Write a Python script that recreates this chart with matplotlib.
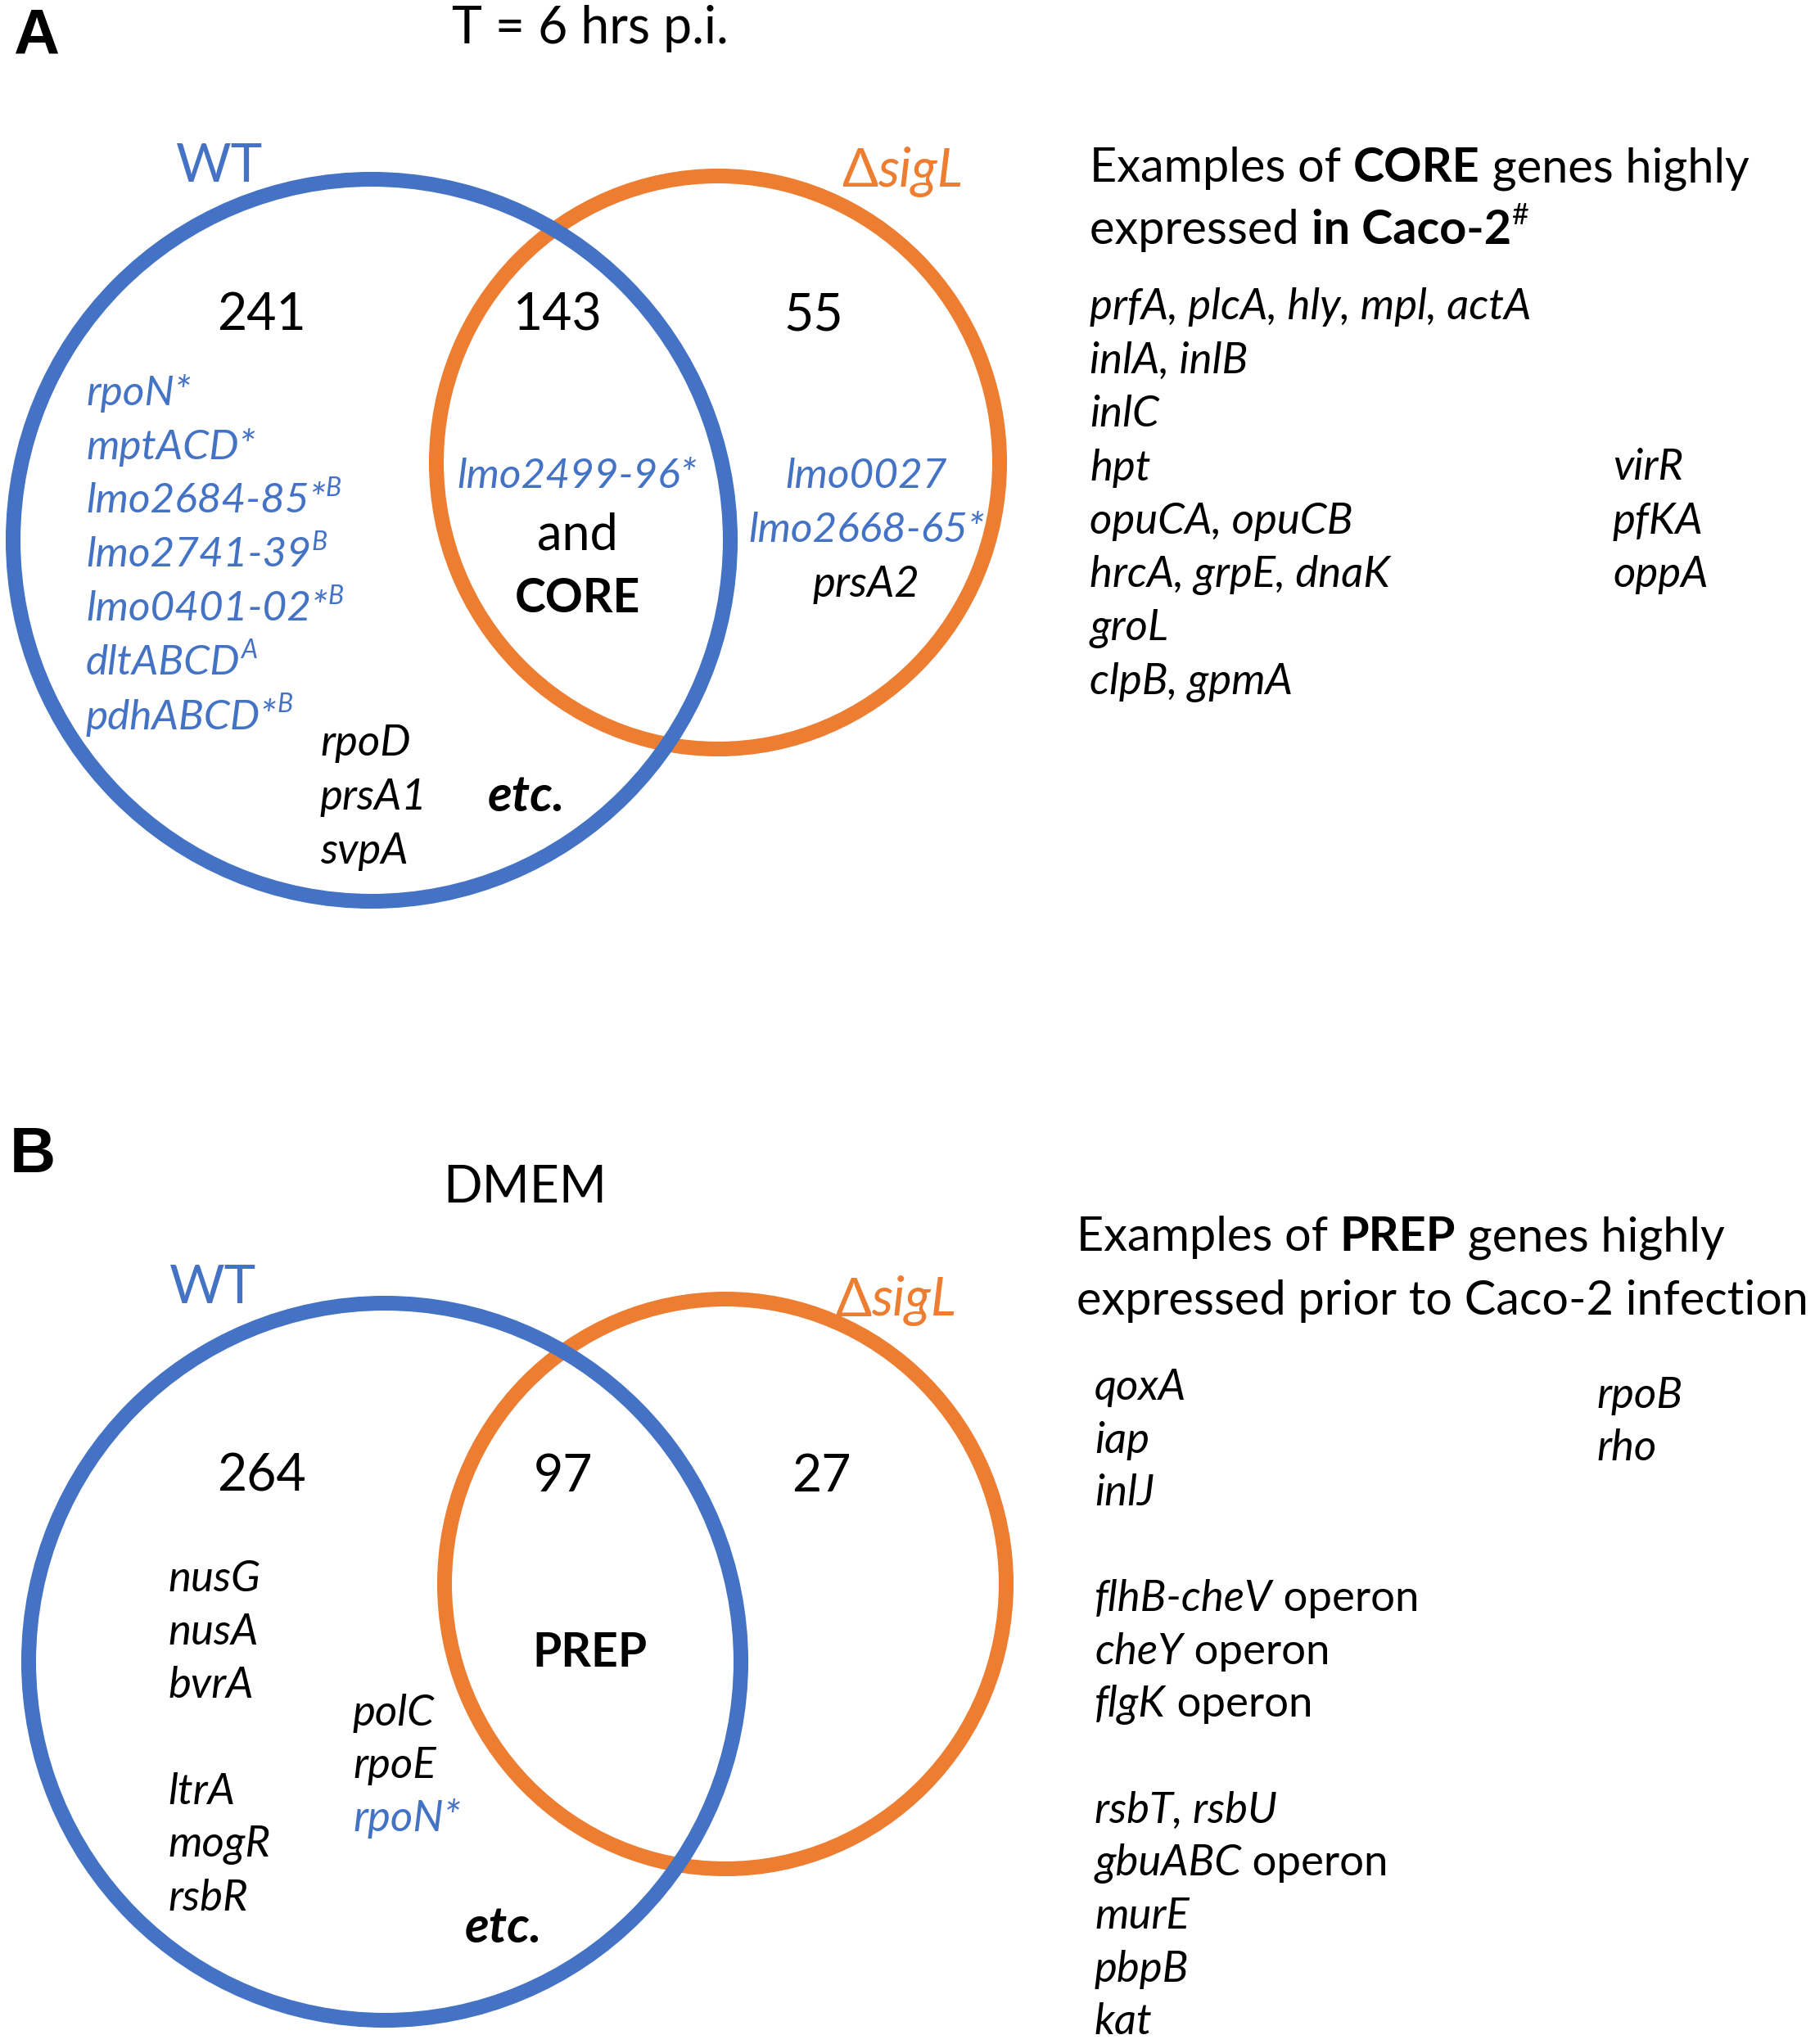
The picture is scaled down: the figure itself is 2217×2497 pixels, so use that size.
import matplotlib
matplotlib.use("Agg")
import matplotlib.pyplot as plt
from matplotlib.patches import Ellipse

plt.rcParams["font.family"] = ["Lato", "DejaVu Sans"]

BLUE = "#4472C4"
ORANGE = "#ED7D31"
W, H = 2217, 2497

# ---- data ----
panel_letters = ["A", "B"]
panel_titles = ["T = 6 hrs p.i.", "DMEM"]
set_names = ["WT", "sigL"]
counts_6h = [241, 143, 55]
counts_dmem = [264, 97, 27]

wt_genes_6h = ["rpoN*", "mptACD*", "lmo2684-85*", "lmo2741-39", "lmo0401-02*", "dltABCD", "pdhABCD*"]
wt_genes_6h_sup = ["", "", "B", "B", "B", "A", "B"]
wt_genes_6h_black = ["rpoD", "prsA1", "svpA"]
shared_genes_6h = ["lmo2499-96*", "and", "CORE"]
sigl_genes_6h_blue = ["lmo0027", "lmo2668-65*"]
sigl_genes_6h_black = ["prsA2"]

core_header = [
    [("Examples of ", ""), ("CORE", "bold"), (" genes highly", "")],
    [("expressed ", ""), ("in Caco-2", "bold"), ("#", "sup")],
]
core_genes_left = ["prfA, plcA, hly, mpl, actA", "inlA, inlB", "inlC", "hpt",
                   "opuCA, opuCB", "hrcA, grpE, dnaK", "groL", "clpB, gpmA"]
core_genes_right = ["virR", "pfKA", "oppA"]

wt_genes_dmem_left = ["nusG", "nusA", "bvrA", "", "ltrA", "mogR", "rsbR"]
wt_genes_dmem_mid = ["polC", "rpoE"]
wt_genes_dmem_mid_blue = ["rpoN*"]
shared_dmem = "PREP"

prep_header = [
    [("Examples of ", ""), ("PREP", "bold"), (" genes highly", "")],
    [("expressed prior to Caco-2 infection", "")],
]
prep_genes_left = [("qoxA", ""), ("iap", ""), ("inlJ", ""), None,
                   ("flhB-cheV", " operon"), ("cheY", " operon"), ("flgK", " operon"), None,
                   ("rsbT, rsbU", ""), ("gbuABC", " operon"), ("murE", ""), ("pbpB", ""), ("kat", "")]
prep_genes_right = ["rpoB", "rho"]

# ---- sizes (pt) ----
S_HEAD = 41.5
S_LIST = 38
S_GENE = 37
S_NUM = 45
S_LABEL = 47
S_TITLE = 45
S_MID = 44
LW = 13

fig = plt.figure(figsize=(W / 100, H / 100), dpi=100)
ax = fig.add_axes([0, 0, 1, 1])
ax.set_xlim(0, W)
ax.set_ylim(H, 0)
ax.axis("off")
renderer = fig.canvas.get_renderer()


def _font(style, size):
    kw = {"fontsize": size}
    if "bold" in style:
        kw["fontweight"] = "bold"
    if "italic" in style:
        kw["fontstyle"] = "italic"
    return kw


def _width(s, kw):
    # measure with a sentinel so trailing spaces count
    t = ax.text(0, 0, s + "|", **kw)
    w1 = t.get_window_extent(renderer).width
    t.set_text("|")
    w0 = t.get_window_extent(renderer).width
    t.remove()
    return w1 - w0


def draw_runs(x, y, runs, size, color="black", ha="left"):
    pieces = []
    total = 0.0
    for text, style in runs:
        sup = "sup" in style
        kw = _font(style.replace("sup", ""), size * 0.62 if sup else size)
        pieces.append((text, kw, total, sup))
        total += _width(text, kw)
    x0 = x - total / 2 if ha == "center" else x
    for text, kw, off, sup in pieces:
        dy = -0.3 * size * 100 / 72 if sup else 0
        ax.text(x0 + off, y + dy, text, color=color, ha="left", va="center", **kw)


def gene(x, y, s, size=S_GENE, color="black", ha="left", weight="normal"):
    ax.text(x, y, s, fontsize=size, fontstyle="italic", fontweight=weight,
            color=color, ha=ha, va="center")


def venn(blue_c, blue_r, orange_c, orange_r):
    ax.add_patch(Ellipse(orange_c, 2 * orange_r[0], 2 * orange_r[1], fill=False,
                         ec=ORANGE, lw=LW, zorder=2))
    ax.add_patch(Ellipse(blue_c, 2 * blue_r[0], 2 * blue_r[1], fill=False,
                         ec=BLUE, lw=LW, zorder=3))


def set_labels(wt_xy, sig_xy):
    ax.text(*wt_xy, set_names[0], fontsize=S_LABEL, color=BLUE, ha="center", va="center")
    draw_runs(sig_xy[0], sig_xy[1], [("\u0394", ""), (set_names[1], "italic")],
              S_LABEL, color=ORANGE, ha="center")


# ---------------- panel A ----------------
ax.text(44, 45, panel_letters[0], fontsize=56, fontweight="bold",
        family="Liberation Sans", ha="center", va="center")
ax.text(721, 35, panel_titles[0], fontsize=S_TITLE, ha="center", va="center")
venn((454, 660), (438, 441), (877, 565), (344, 350))
set_labels((268, 203), (1102, 210))
for x, n in zip([320, 681, 994], counts_6h):
    ax.text(x, 385, str(n), fontsize=S_NUM, ha="center", va="center")

for i, (g, sup) in enumerate(zip(wt_genes_6h, wt_genes_6h_sup)):
    runs = [(g, "italic")] + ([(sup, "italicsup")] if sup else [])
    draw_runs(105, 480 + 66 * i, runs, S_GENE, color=BLUE)
for i, g in enumerate(wt_genes_6h_black):
    gene(391, 908 + 66 * i, g, size=S_LIST)
gene(643, 973, "etc.", size=S_MID, weight="bold", ha="center")

gene(705, 582, shared_genes_6h[0], color=BLUE, ha="center")
ax.text(705, 654, shared_genes_6h[1], fontsize=S_MID, ha="center", va="center")
ax.text(705, 731, shared_genes_6h[2], fontsize=41, fontweight="bold", ha="center", va="center")

for i, g in enumerate(sigl_genes_6h_blue):
    gene(1058, 582 + 66 * i, g, color=BLUE, ha="center")
for i, g in enumerate(sigl_genes_6h_black):
    gene(1058, 582 + 66 * (i + 2), g, size=S_LIST, ha="center")

for i, runs in enumerate(core_header):
    draw_runs(1331, 206 + 75 * i, runs, S_HEAD)
for i, g in enumerate(core_genes_left):
    gene(1331, 375 + 65.5 * i, g, size=S_LIST)
for i, g in enumerate(core_genes_right):
    gene(1970, 375 + 65.5 * (i + 3), g, size=S_LIST)

# ---------------- panel B ----------------
ax.text(40, 1412, panel_letters[1], fontsize=56, fontweight="bold",
        family="Liberation Sans", ha="center", va="center")
ax.text(641, 1451, panel_titles[1], fontsize=S_TITLE, ha="center", va="center")
venn((470, 2030), (435, 438), (886, 1935), (343, 348))
set_labels((260, 1574), (1094, 1589))
for x, n in zip([320, 688, 1003], counts_dmem):
    ax.text(x, 1804, str(n), fontsize=S_NUM, ha="center", va="center")

for i, g in enumerate(wt_genes_dmem_left):
    if g:
        gene(205, 1929 + 65 * i, g, size=S_LIST)
for i, g in enumerate(wt_genes_dmem_mid):
    gene(431, 2093 + 64 * i, g, size=S_LIST)
for i, g in enumerate(wt_genes_dmem_mid_blue):
    gene(431, 2093 + 64 * (i + 2), g, size=S_LIST, color=BLUE)
gene(615, 2355, "etc.", size=S_MID, weight="bold", ha="center")
ax.text(720, 2019, shared_dmem, fontsize=41, fontweight="bold", ha="center", va="center")

for i, runs in enumerate(prep_header):
    draw_runs(1315, 1512 + 77 * i, runs, S_HEAD)
for i, item in enumerate(prep_genes_left):
    if item is None:
        continue
    name, rest = item
    runs = [(name, "italic")] + ([(rest, "")] if rest else [])
    draw_runs(1337, 1695 + 64.6 * i, runs, S_LIST)
for i, g in enumerate(prep_genes_right):
    gene(1950, 1705 + 64 * i, g, size=S_LIST)

fig.savefig("out.png", dpi=100)
